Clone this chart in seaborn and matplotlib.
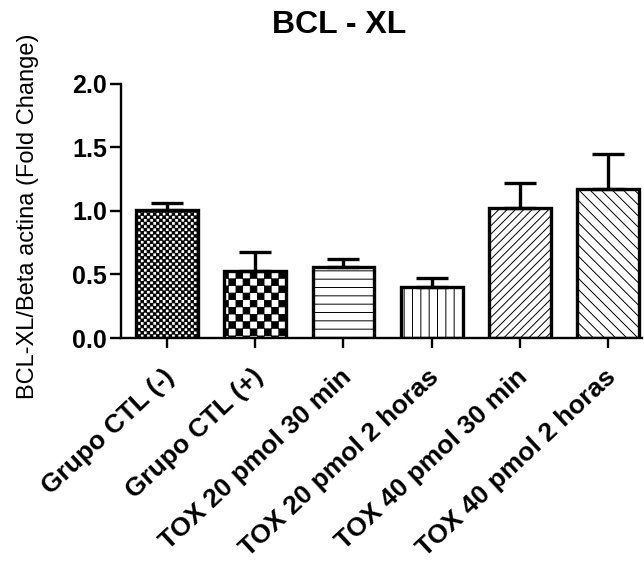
import numpy as np
import matplotlib
matplotlib.use("Agg")
import matplotlib.pyplot as plt
import matplotlib.transforms as mtransforms
from matplotlib import hatch as mhatch
from matplotlib.path import Path
import seaborn as sns

groups = ["Grupo CTL (-)", "Grupo CTL (+)", "TOX 20 pmol 30 min",
          "TOX 20 pmol 2 horas", "TOX 40 pmol 30 min", "TOX 40 pmol 2 horas"]
means = [1.01, 0.53, 0.56, 0.40, 1.02, 1.17]
sems = [0.05, 0.15, 0.06, 0.07, 0.20, 0.28]
yticks = [0.0, 0.5, 1.0, 1.5, 2.0]


# checkerboard hatch (Prism style) in place of the circle hatches 'O' / 'o'
class Checker(mhatch.HatchPatternBase):
    symbol = 'O'
    cells = 14

    def __init__(self, hatch, density):
        self.n = self.cells if self.symbol in hatch else 0
        self.num_vertices = 5 * (self.n ** 2 // 2)

    def set_vertices_and_codes(self, vertices, codes):
        s = 1.0 / self.n
        e = 0.003  # small inset, the hatch stroke adds to the square
        k = 0
        for i in range(self.n):
            for j in range(self.n):
                if (i + j) % 2 == 0:
                    x, y = i * s, j * s
                    vertices[k:k + 5] = [(x + e, y + e), (x + s - e, y + e),
                                         (x + s - e, y + s - e), (x + e, y + s - e),
                                         (x + e, y + e)]
                    codes[k:k + 5] = [Path.MOVETO, Path.LINETO, Path.LINETO,
                                      Path.LINETO, Path.CLOSEPOLY]
                    k += 5


class FineChecker(Checker):
    symbol = 'o'
    cells = 32


mhatch._hatch_types = [t for t in mhatch._hatch_types
                       if t not in (mhatch.SmallCircles, mhatch.LargeCircles)] + [Checker, FineChecker]

sns.set_style("white")
plt.rcParams['font.family'] = ['Liberation Sans', 'DejaVu Sans']
plt.rcParams['hatch.linewidth'] = 0.7
for k in ['text.color', 'axes.labelcolor', 'xtick.color', 'ytick.color', 'axes.edgecolor']:
    plt.rcParams[k] = 'black'

fig = plt.figure(figsize=(6.44, 5.61), dpi=100)
ax = fig.add_axes([0.188, 0.3975, 0.809, 0.4528])

sns.barplot(x=groups, y=means, color='white', edgecolor='black', linewidth=2.4,
            width=0.7, saturation=1, errorbar=None, ax=ax)

hatches = ['o', 'O', '--', '||', '////', '\\\\\\']
for bar, h in zip(ax.patches, hatches):
    bar.set_hatch(h)

# upper error bars only (SEM)
ax.errorbar(range(len(groups)), means, yerr=[np.zeros(len(sems)), sems], fmt='none',
            ecolor='black', elinewidth=2.4, capsize=11.5, capthick=2.4)

sns.despine(ax=ax)
for s in ['left', 'bottom']:
    ax.spines[s].set_linewidth(1.7)

ax.set_ylim(0, 2.0)
ax.set_xlim(-0.52, 5.385)
ax.set_yticks(yticks)
ax.set_yticklabels([f"{t:.1f}" for t in yticks], fontsize=18, fontweight='bold')
ax.set_xticks(range(len(groups)))
ax.set_xticklabels(groups, rotation=43, ha='right', rotation_mode='anchor',
                   fontsize=19, fontweight='bold')
ax.tick_params(axis='y', direction='out', length=8, width=1.7, pad=2, left=True)
ax.tick_params(axis='x', direction='out', length=7, width=1.7, pad=12, bottom=True)
ax.set_xlabel('')

# nudge the rotated labels a little to the left
shift = mtransforms.ScaledTranslation(-4 / 100, 0, fig.dpi_scale_trans)
for lab in ax.get_xticklabels():
    lab.set_transform(lab.get_transform() + shift)

fig.text(0.526, 1 - 25 / 561, 'BCL - XL', ha='center', va='center',
         fontsize=23, fontweight='bold')
fig.text(28 / 644, 1 - 216 / 561, 'BCL-XL/Beta actina (Fold Change)', rotation=90,
         ha='center', va='center', fontsize=17)

fig.savefig('out.png', dpi=100)
